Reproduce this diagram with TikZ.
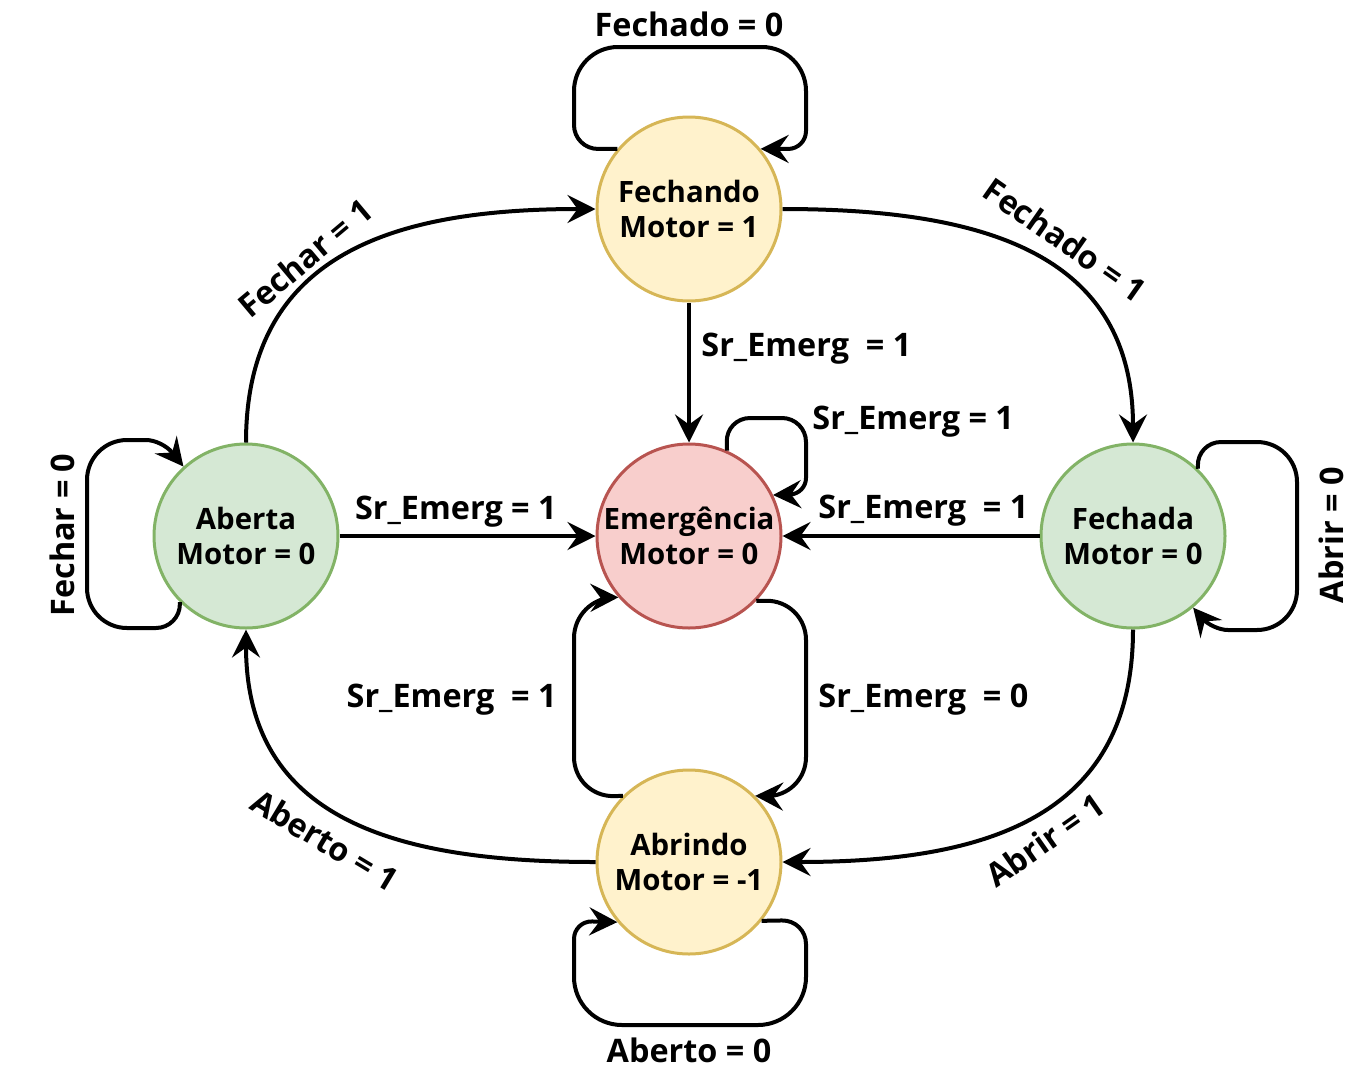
\documentclass[tikz,border=0pt]{standalone}
\usepackage{fontspec}
\setmainfont{Open Sans}
\usetikzlibrary{arrows.meta}

\definecolor{yelfill}{HTML}{FFF2CC}
\definecolor{yelline}{HTML}{D6B656}
\definecolor{grnfill}{HTML}{D5E8D4}
\definecolor{grnline}{HTML}{82B366}
\definecolor{redfill}{HTML}{F8CECC}
\definecolor{redline}{HTML}{B85450}

\begin{document}
\begin{tikzpicture}[x=0.5pt, y=-0.5pt,
roundnode/.style={circle, line width=1.5pt, minimum size=92pt, inner sep=0pt, align=center, font=\bfseries\fontsize{14.7}{17.5}\selectfont},
yellownode/.style={roundnode, draw=yelline, fill=yelfill},
greennode/.style={roundnode, draw=grnline, fill=grnfill},
rednode/.style={roundnode, draw=redline, fill=redfill},
edgetext/.style={font=\bfseries\fontsize{16.2}{19}\selectfont, inner sep=1pt},
arc/.style={-{Stealth[length=14pt, width=14pt, inset=5pt]}, line width=2pt}
]
    \useasboundingbox (0,0) rectangle (1370,1071);

    \node[yellownode] (fechando) at (689,209) {Fechando\\Motor = 1};
    \node[rednode] (emerg) at (689,536) {Emergência\\Motor = 0};
    \node[greennode] (aberta) at (246,536) {Aberta\\Motor = 0};
    \node[greennode] (fechada) at (1133,536) {Fechada\\Motor = 0};
    \node[yellownode] (abrindo) at (689,862) {Abrindo\\Motor = -1};

    \draw[arc] (aberta.north) .. controls +(0,-190) and +(-200,0) .. (fechando.west);
    \draw[arc] (fechando.east) .. controls +(200,0) and +(0,-190) .. (fechada.north);
    \draw[arc] (fechada.south) .. controls +(0,190) and +(200,0) .. (abrindo.east);
    \draw[arc] (abrindo.west) .. controls +(-200,0) and +(0,190) .. (aberta.south);

    \draw[arc] (fechando) -- (emerg);
    \draw[arc] (aberta) -- (emerg);
    \draw[arc] (fechada) -- (emerg);

    \draw[arc] (fechando.140) [rounded corners=12pt] -- (574,149) [rounded corners=22pt] -- (574,47) -- (806,47) [rounded corners=9pt] -- (806,149) -- (fechando.40);
    \draw[arc, rounded corners=12pt] (emerg.66) -- (726,418) -- (806,418) [rounded corners=8pt] -- (806,494) -- (emerg.26);
    \draw[arc] (aberta.225) [rounded corners=12pt] -- (180,628) [rounded corners=20pt] -- (87,628) -- (87,440) [rounded corners=8pt] -- (162,440) -- (aberta.132);
    \draw[arc] (fechada.46) [rounded corners=12pt] -- (1197,442) [rounded corners=20pt] -- (1297,442) -- (1297,630) [rounded corners=8pt] -- (1212,630) -- (fechada.-50);
    \draw[arc, rounded corners=20pt] (abrindo.135) -- (574,797) -- (574,598) [rounded corners=12pt] -- (emerg.221);
    \draw[arc, rounded corners=20pt] (emerg.-44) -- (806,600) -- (806,797) [rounded corners=12pt] -- (abrindo.45);
    \draw[arc] (abrindo.-39) [rounded corners=12pt] -- (806,920) [rounded corners=24pt] -- (806,1025) -- (574,1025) [rounded corners=9pt] -- (574,921) -- (abrindo.220);

    \node[edgetext] (tfechado0) at (689,24) {Fechado = 0};
    \node[edgetext, rotate=40] (tfechar1) at (305,258) {Fechar = 1};
    \node[edgetext, rotate=-35] (tfechado1) at (1065,240) {Fechado = 1};
    \node[edgetext, rotate=35] (tabrir1) at (1045,840) {Abrir = 1};
    \node[edgetext, rotate=-31] (taberto1) at (325,840) {Aberto = 1};
    \node[edgetext, rotate=90] (tfechar0) at (62,535) {Fechar = 0};
    \node[edgetext, rotate=90] (tabrir0) at (1331,535) {Abrir = 0};
    \node[edgetext] (taberto0) at (689,1050) {Aberto = 0};
    \node[edgetext, anchor=west] (tsr1) at (699,349) {Sr\_Emerg\ \ = 1};
    \node[edgetext, anchor=west] (tsr2) at (810,422) {Sr\_Emerg = 1};
    \node[edgetext, anchor=east] (tsr3) at (559,512) {Sr\_Emerg = 1};
    \node[edgetext, anchor=west] (tsr4) at (816,511) {Sr\_Emerg\ \ = 1};
    \node[edgetext, anchor=east] (tsr5) at (559,700) {Sr\_Emerg\ \ = 1};
    \node[edgetext, anchor=west] (tsr6) at (816,700) {Sr\_Emerg\ \ = 0};
\end{tikzpicture}
\end{document}
